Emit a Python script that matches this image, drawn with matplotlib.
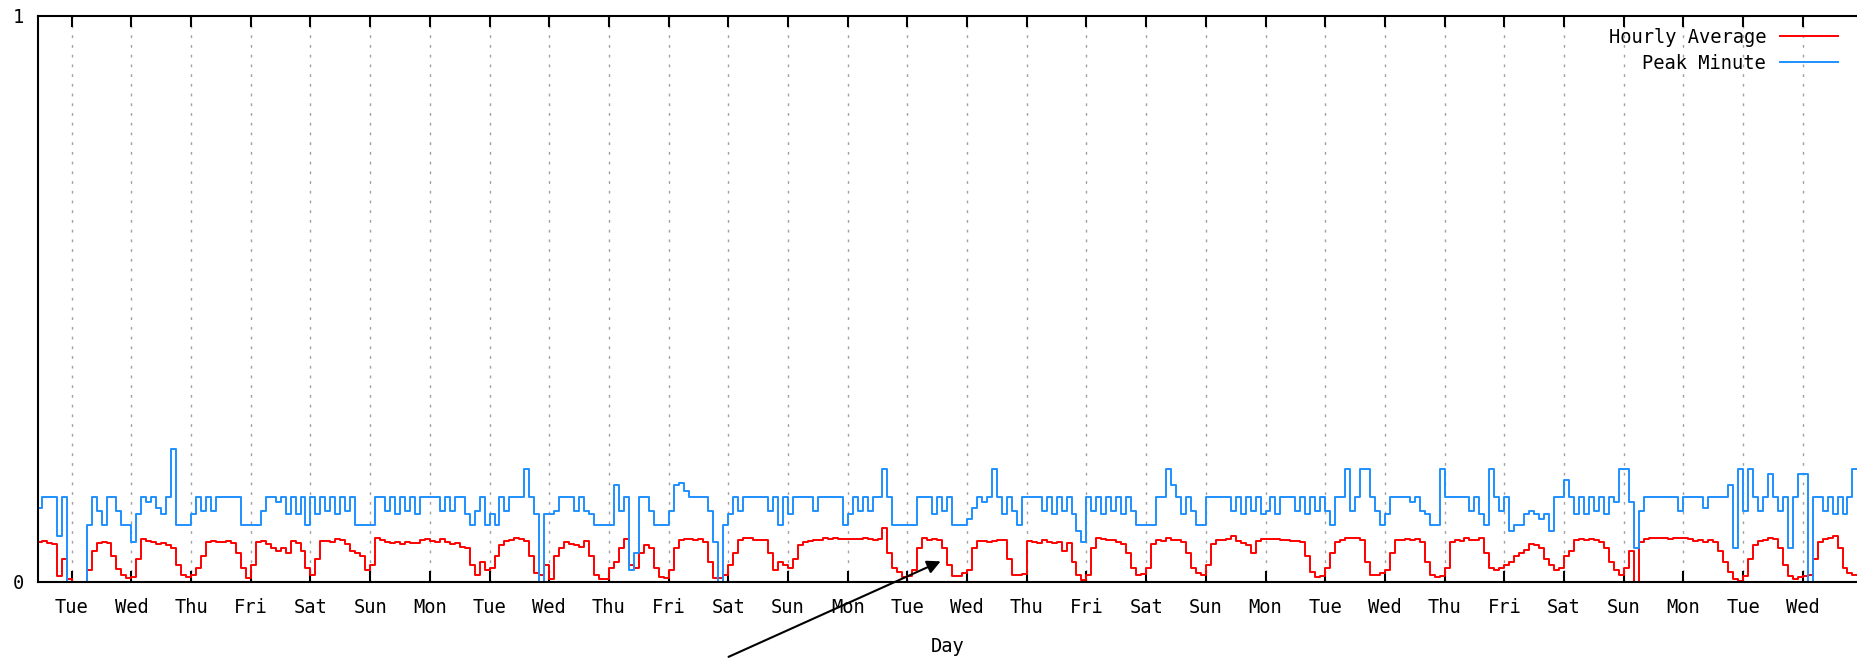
import numpy as np
import matplotlib
matplotlib.use('Agg')
import matplotlib.pyplot as plt

# two-hour samples, first one 14 h before the first "Tue" tick
hours = np.arange(-14, 720, 2)

hourly_avg = [
    0.070, 0.072, 0.069, 0.066, 0.010, 0.040, 0.005,
    0.000, 0.000, 0.000, 0.020, 0.055, 0.068, 0.070, 0.068, 0.045, 0.022, 0.012, 0.006,
    0.008, 0.040, 0.075, 0.072, 0.070, 0.066, 0.068, 0.064, 0.060, 0.030, 0.012, 0.008,
    0.012, 0.025, 0.045, 0.070, 0.072, 0.070, 0.070, 0.072, 0.068, 0.050, 0.025, 0.006,
    0.030, 0.070, 0.072, 0.066, 0.060, 0.055, 0.060, 0.050, 0.072, 0.068, 0.055, 0.025,
    0.012, 0.040, 0.072, 0.072, 0.070, 0.075, 0.074, 0.066, 0.055, 0.050, 0.045, 0.020,
    0.030, 0.078, 0.074, 0.070, 0.068, 0.070, 0.066, 0.070, 0.068, 0.068, 0.074, 0.075,
    0.072, 0.070, 0.075, 0.070, 0.066, 0.068, 0.062, 0.060, 0.030, 0.012, 0.035, 0.020,
    0.025, 0.045, 0.065, 0.072, 0.074, 0.078, 0.075, 0.072, 0.045, 0.015, 0.012, 0.030,
    0.005, 0.045, 0.060, 0.070, 0.066, 0.064, 0.062, 0.072, 0.045, 0.012, 0.004, 0.004,
    0.025, 0.035, 0.060, 0.075, 0.030, 0.025, 0.050, 0.065, 0.060, 0.025, 0.008, 0.006,
    0.020, 0.060, 0.074, 0.076, 0.075, 0.074, 0.076, 0.070, 0.035, 0.006, 0.006, 0.012,
    0.030, 0.050, 0.074, 0.078, 0.077, 0.074, 0.074, 0.073, 0.050, 0.020, 0.035, 0.030,
    0.025, 0.040, 0.065, 0.070, 0.072, 0.074, 0.074, 0.077, 0.076, 0.078, 0.076, 0.076,
    0.075, 0.076, 0.076, 0.077, 0.075, 0.074, 0.076, 0.095, 0.050, 0.025, 0.018, 0.008,
    0.010, 0.020, 0.060, 0.077, 0.074, 0.076, 0.074, 0.060, 0.030, 0.010, 0.010, 0.015,
    0.020, 0.060, 0.072, 0.072, 0.071, 0.072, 0.073, 0.074, 0.040, 0.012, 0.012, 0.014,
    0.072, 0.070, 0.068, 0.074, 0.070, 0.068, 0.070, 0.055, 0.068, 0.035, 0.012, 0.003,
    0.012, 0.060, 0.077, 0.076, 0.074, 0.073, 0.070, 0.066, 0.050, 0.025, 0.012, 0.013,
    0.025, 0.066, 0.074, 0.072, 0.078, 0.074, 0.073, 0.070, 0.050, 0.025, 0.015, 0.012,
    0.030, 0.066, 0.074, 0.074, 0.075, 0.080, 0.072, 0.068, 0.064, 0.050, 0.072, 0.076,
    0.076, 0.076, 0.076, 0.074, 0.074, 0.072, 0.072, 0.070, 0.045, 0.018, 0.008, 0.010,
    0.025, 0.050, 0.070, 0.074, 0.078, 0.078, 0.078, 0.074, 0.035, 0.012, 0.012, 0.015,
    0.020, 0.050, 0.074, 0.074, 0.075, 0.074, 0.076, 0.070, 0.035, 0.012, 0.008, 0.010,
    0.025, 0.070, 0.074, 0.072, 0.077, 0.073, 0.074, 0.077, 0.050, 0.025, 0.020, 0.025,
    0.030, 0.035, 0.045, 0.050, 0.056, 0.066, 0.065, 0.060, 0.040, 0.030, 0.020, 0.025,
    0.045, 0.055, 0.074, 0.076, 0.074, 0.076, 0.074, 0.070, 0.060, 0.035, 0.020, 0.012,
    0.025, 0.055, 0.000, 0.070, 0.076, 0.077, 0.078, 0.077, 0.078, 0.076, 0.078, 0.077,
    0.077, 0.076, 0.072, 0.074, 0.070, 0.074, 0.070, 0.055, 0.035, 0.018, 0.004, 0.002,
    0.010, 0.040, 0.065, 0.072, 0.074, 0.077, 0.075, 0.060, 0.030, 0.010, 0.004, 0.008,
    0.010, 0.012, 0.040, 0.070, 0.076, 0.078, 0.080, 0.060, 0.025, 0.015, 0.012, 0.012,
]

peak_minute = [
    0.13, 0.15, 0.15, 0.15, 0.08, 0.15, 0.0,
    0.0, 0.0, 0.0, 0.10, 0.15, 0.125, 0.10, 0.15, 0.15, 0.125, 0.10, 0.10,
    0.07, 0.12, 0.15, 0.14, 0.15, 0.13, 0.12, 0.15, 0.235, 0.10, 0.10, 0.10,
    0.12, 0.15, 0.125, 0.15, 0.125, 0.15, 0.15, 0.15, 0.15, 0.15, 0.10, 0.10,
    0.10, 0.10, 0.125, 0.15, 0.15, 0.14, 0.15, 0.12, 0.15, 0.12, 0.15, 0.10,
    0.15, 0.12, 0.15, 0.125, 0.15, 0.12, 0.15, 0.125, 0.15, 0.10, 0.10, 0.10,
    0.10, 0.15, 0.15, 0.125, 0.15, 0.12, 0.15, 0.125, 0.15, 0.12, 0.15, 0.15,
    0.15, 0.15, 0.125, 0.15, 0.125, 0.15, 0.15, 0.12, 0.10, 0.125, 0.15, 0.10,
    0.12, 0.10, 0.15, 0.125, 0.15, 0.15, 0.15, 0.20, 0.15, 0.12, 0.0, 0.12,
    0.12, 0.125, 0.15, 0.15, 0.15, 0.125, 0.15, 0.125, 0.12, 0.10, 0.10, 0.10,
    0.10, 0.17, 0.125, 0.15, 0.02, 0.05, 0.15, 0.15, 0.125, 0.10, 0.10, 0.10,
    0.125, 0.17, 0.175, 0.16, 0.15, 0.15, 0.15, 0.15, 0.125, 0.07, 0.0, 0.10,
    0.12, 0.15, 0.125, 0.15, 0.15, 0.15, 0.15, 0.15, 0.125, 0.15, 0.10, 0.15,
    0.12, 0.15, 0.15, 0.15, 0.15, 0.125, 0.15, 0.15, 0.15, 0.15, 0.15, 0.10,
    0.12, 0.15, 0.125, 0.15, 0.125, 0.15, 0.15, 0.20, 0.15, 0.10, 0.10, 0.10,
    0.10, 0.10, 0.15, 0.15, 0.15, 0.12, 0.15, 0.125, 0.15, 0.10, 0.10, 0.10,
    0.11, 0.13, 0.15, 0.14, 0.15, 0.20, 0.15, 0.12, 0.15, 0.125, 0.10, 0.15,
    0.15, 0.15, 0.15, 0.125, 0.15, 0.12, 0.15, 0.125, 0.15, 0.12, 0.09, 0.07,
    0.15, 0.125, 0.15, 0.12, 0.15, 0.125, 0.15, 0.12, 0.15, 0.125, 0.10, 0.10,
    0.10, 0.10, 0.15, 0.15, 0.20, 0.17, 0.15, 0.12, 0.15, 0.125, 0.10, 0.10,
    0.15, 0.15, 0.15, 0.15, 0.15, 0.125, 0.15, 0.12, 0.15, 0.125, 0.15, 0.12,
    0.125, 0.15, 0.12, 0.15, 0.15, 0.15, 0.125, 0.15, 0.12, 0.15, 0.125, 0.15,
    0.125, 0.10, 0.15, 0.15, 0.20, 0.125, 0.15, 0.20, 0.20, 0.15, 0.125, 0.10,
    0.12, 0.15, 0.15, 0.15, 0.15, 0.14, 0.15, 0.125, 0.12, 0.10, 0.10, 0.20,
    0.15, 0.15, 0.15, 0.15, 0.15, 0.125, 0.15, 0.12, 0.10, 0.20, 0.15, 0.125,
    0.15, 0.09, 0.10, 0.10, 0.12, 0.125, 0.12, 0.11, 0.12, 0.09, 0.15, 0.15,
    0.18, 0.15, 0.12, 0.15, 0.12, 0.15, 0.125, 0.15, 0.12, 0.15, 0.14, 0.20,
    0.20, 0.14, 0.06, 0.125, 0.15, 0.15, 0.15, 0.15, 0.15, 0.15, 0.15, 0.125,
    0.15, 0.15, 0.15, 0.15, 0.13, 0.15, 0.15, 0.15, 0.15, 0.17, 0.06, 0.20,
    0.125, 0.20, 0.15, 0.125, 0.15, 0.19, 0.15, 0.125, 0.15, 0.06, 0.15, 0.19,
    0.19, 0.0, 0.15, 0.15, 0.125, 0.15, 0.12, 0.15, 0.12, 0.15, 0.20, 0.20,
]

day_labels = ['Tue', 'Wed', 'Thu', 'Fri', 'Sat', 'Sun', 'Mon',
              'Tue', 'Wed', 'Thu', 'Fri', 'Sat', 'Sun', 'Mon',
              'Tue', 'Wed', 'Thu', 'Fri', 'Sat', 'Sun', 'Mon',
              'Tue', 'Wed', 'Thu', 'Fri', 'Sat', 'Sun', 'Mon',
              'Tue', 'Wed']

plt.rcParams['font.family'] = 'DejaVu Sans Mono'
plt.rcParams['font.size'] = 13.5

W, H = 1858, 658
fig = plt.figure(figsize=(W / 100, H / 100), dpi=100)
left, top, bottom = 37.7, 15.7, 581.7
ax = fig.add_axes([left / W, (H - bottom) / H, (W - left) / W, (bottom - top) / H])

days = hours / 24.0
ax.plot(days, hourly_avg, color='#ff0000', lw=1.4, drawstyle='steps-post', label='Hourly Average')
ax.plot(days, peak_minute, color='#1e8fff', lw=1.4, drawstyle='steps-post', label='Peak Minute')

ax.set_xlim(-0.5696, 29.926)
ax.set_ylim(0, 1)
ax.set_yticks([0, 1])
ax.set_yticklabels(['0', '1'])
ax.set_xticks(range(len(day_labels)))
ax.set_xticklabels(day_labels)

ax.tick_params(axis='x', direction='in', top=True, length=8, width=1.5, pad=12)
ax.tick_params(axis='y', length=0, pad=10)
ax.grid(axis='x', color='#a0a0a0', linestyle=(0, (2, 5)), linewidth=1)

for side in ['left', 'bottom', 'top']:
    ax.spines[side].set_linewidth(1.5)
    ax.spines[side].set_color('black')
ax.spines['right'].set_visible(False)

ax.set_xlabel('Day', labelpad=14)

ax.legend(loc='upper right', bbox_to_anchor=(1.0, 1.013), markerfirst=False, frameon=False,
          handlelength=3.1, handletextpad=0.75, labelspacing=0.36, borderaxespad=0.75,
          borderpad=0.3)

ax.annotate('', xy=(14.6, 0.038), xycoords='data', xytext=(726, 0), textcoords='figure pixels',
            arrowprops=dict(arrowstyle='-|>', color='black', lw=1.5, mutation_scale=20),
            annotation_clip=False)

fig.savefig('out.png', dpi=100)
